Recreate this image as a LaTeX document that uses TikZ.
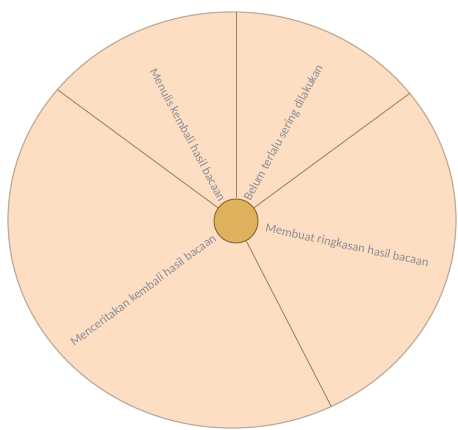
\documentclass[tikz,border=0pt]{standalone}
\usepackage{fontspec}
\setmainfont{Carlito}
\usepackage{tikz}
\usetikzlibrary{calc}
\definecolor{mypeach}{RGB}{253,222,194}
\definecolor{myrim}{RGB}{188,172,156}
\definecolor{myspoke}{RGB}{160,130,100}
\definecolor{myhub}{RGB}{222,178,92}
\definecolor{myhubrim}{RGB}{140,105,50}
\definecolor{mylabel}{RGB}{140,140,150}
\tikzset{
  disc/.style={draw=myrim, fill=mypeach, line width=1.2pt},
  hubnode/.style={circle, draw=myhubrim, fill=myhub,
    minimum size=44pt, inner sep=0pt, line width=1pt},
  spoke/.style={draw=myspoke, line width=0.9pt},
  sectorlabel/.style={font=\fontsize{12.5}{14}\selectfont, text=mylabel, inner sep=1pt}
}
\begin{document}
\begin{tikzpicture}[x=1pt,y=1pt]
  \useasboundingbox (0,0) rectangle (458,430);
  \coordinate (ctr) at (232,210);
  \draw[disc] (ctr) ellipse (224pt and 208pt);
  \node[hubnode] (hub) at (236,209) {};
  % spoke ends on the rim
  \coordinate (top) at (236,418);
  \coordinate (upleft) at ($(ctr)+(141.2:224pt and 208pt)$);
  \coordinate (upright) at ($(ctr)+(37.5:224pt and 208pt)$);
  \coordinate (bottom) at ($(ctr)+(-63.7:224pt and 208pt)$);
  \foreach \e in {top,upleft,upright,bottom}
    \draw[spoke] (hub) -- (\e);
  % sector labels
  \node[sectorlabel, rotate=-62] (menulis) at (188,295) {Menulis kembali hasil bacaan};
  \node[sectorlabel, rotate=61.6] (belum) at (284,297) {Belum terlalu sering dilakukan};
  \node[sectorlabel, rotate=-12.2] (ringkasan) at (347,184) {Membuat ringkasan hasil bacaan};
  \node[sectorlabel, rotate=36.8] (cerita) at (143,140) {Menceritakan kembali hasil bacaan};
\end{tikzpicture}
\end{document}
